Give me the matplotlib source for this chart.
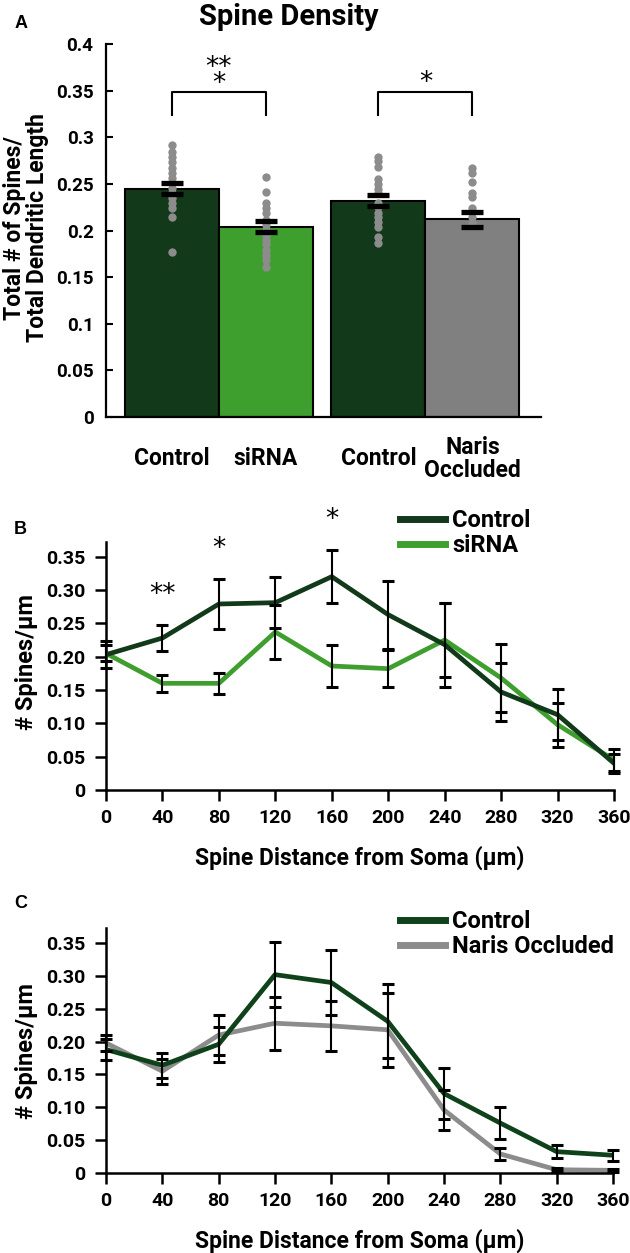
import matplotlib
matplotlib.use("Agg")
import matplotlib.pyplot as plt
import numpy as np

plt.rcParams['font.family'] = ['Roboto', 'DejaVu Sans']
plt.rcParams['font.weight'] = 'bold'

# ---------------- Panel A data ----------------
bar_labels = ["Control", "siRNA", "Control", "Naris\nOccluded"]
bar_means = [0.245, 0.204, 0.232, 0.212]
bar_sem = [0.006, 0.006, 0.006, 0.008]
dots_ctrl1 = [0.292, 0.284, 0.279, 0.273, 0.267, 0.262, 0.256, 0.251, 0.246,
              0.240, 0.235, 0.230, 0.224, 0.215, 0.177]
dots_sirna = [0.257, 0.241, 0.230, 0.224, 0.219, 0.211, 0.206, 0.201, 0.195,
              0.190, 0.185, 0.179, 0.174, 0.168, 0.161]
dots_ctrl2 = [0.279, 0.274, 0.268, 0.255, 0.250, 0.245, 0.240, 0.230, 0.225,
              0.219, 0.214, 0.209, 0.204, 0.193, 0.187]
dots_naris = [0.267, 0.262, 0.252, 0.240, 0.236, 0.224, 0.215, 0.208]
a_yticks = [0, 0.05, 0.1, 0.15, 0.2, 0.25, 0.3, 0.35, 0.4]
a_yticklabels = ["0", "0.05", "0.1", "0.15", "0.2", "0.25", "0.3", "0.35", "0.4"]

# ---------------- Panel B / C data ----------------
distance = [0, 40, 80, 120, 160, 200, 240, 280, 320, 360]
b_control = [0.203, 0.228, 0.279, 0.281, 0.320, 0.263, 0.218, 0.147, 0.113, 0.040]
b_control_err = [0.020, 0.020, 0.037, 0.038, 0.040, 0.051, 0.063, 0.044, 0.038, 0.014]
b_sirna = [0.205, 0.160, 0.160, 0.237, 0.186, 0.182, 0.225, 0.168, 0.098, 0.045]
b_sirna_err = [0.012, 0.013, 0.016, 0.041, 0.031, 0.028, 0.055, 0.051, 0.033, 0.016]

c_control = [0.188, 0.164, 0.196, 0.302, 0.290, 0.231, 0.121, 0.076, 0.0325, 0.027]
c_control_err = [0.016, 0.019, 0.027, 0.050, 0.050, 0.056, 0.039, 0.024, 0.010, 0.008]
c_naris = [0.198, 0.155, 0.210, 0.228, 0.224, 0.218, 0.096, 0.029, 0.005, 0.004]
c_naris_err = [0.012, 0.019, 0.031, 0.040, 0.038, 0.056, 0.031, 0.009, 0.002, 0.002]

line_yticks = [0, 0.05, 0.10, 0.15, 0.20, 0.25, 0.30, 0.35]
line_yticklabels = ["0", "0.05", "0.10", "0.15", "0.20", "0.25", "0.30", "0.35"]

DARK = "#12391a"
LIGHT = "#3f9f2e"
GRAY = "#808080"
DOT = "#8c8c8c"
C_DARK = "#0f421b"
C_GRAY = "#8c8c8c"

W, H = 630, 1253
fig = plt.figure(figsize=(W / 100, H / 100), dpi=100)


def rect(l, r, t, b):
    return [l / W, 1 - b / H, (r - l) / W, (b - t) / H]


STAR = dict(fontweight='normal', family=['DejaVu Sans'], ha='center', va='center')

# ================= Panel A =================
axA = fig.add_axes(rect(106, 541, 44, 417))
pos = [0, 1, 2.2, 3.2]
colors = [DARK, LIGHT, DARK, GRAY]
axA.bar(pos, bar_means, width=1.0, color=colors, edgecolor="black", linewidth=1.5, zorder=2)
for p, d in zip(pos, [dots_ctrl1, dots_sirna, dots_ctrl2, dots_naris]):
    axA.plot([p] * len(d), d, 'o', color=DOT, markersize=6, markeredgewidth=0, zorder=3)
axA.errorbar(pos, bar_means, yerr=bar_sem, fmt='none', ecolor='black', elinewidth=0,
             capsize=8, capthick=3.8, zorder=4)
axA.set_xlim(-0.7, 3.93)
axA.set_ylim(0, 0.4)
axA.set_yticks(a_yticks)
axA.set_yticklabels(a_yticklabels)
axA.set_xticks(pos)
axA.set_xticklabels(bar_labels, fontsize=16.5, fontweight='bold', linespacing=1.0)
for lbl in axA.get_xticklabels():
    lbl.set_va('center')
axA.tick_params(axis='x', length=0, pad=30)
axA.tick_params(axis='y', direction='in', length=5, width=1.5, labelsize=13.5, pad=9)
for s in ["top", "right"]:
    axA.spines[s].set_visible(False)
for s in ["left", "bottom"]:
    axA.spines[s].set_linewidth(1.6)

# significance brackets
for x1, x2 in [(pos[0], pos[1]), (pos[2], pos[3])]:
    axA.plot([x1, x1, x2, x2], [0.324, 0.349, 0.349, 0.324], color='black', lw=1.5, zorder=3)
axA.text(0.5, 0.366, "**\n*", fontsize=19, linespacing=0.5, **STAR)
axA.text(2.7, 0.358, "*", fontsize=19, **STAR)

fig.text(289 / W, 1 - 17 / H, "Spine Density", ha='center', va='center', fontsize=21,
         fontweight='bold')
fig.text(26 / W, 1 - 228 / H, "Total # of Spines/\nTotal Dendritic Length", rotation=90,
         ha='center', va='center', fontsize=16.5, fontweight='bold', linespacing=1.05,
         multialignment='center')


def style_line_axes(ax, ylim_top):
    ax.set_xlim(0, 360)
    ax.set_ylim(0, ylim_top)
    ax.set_xticks(distance)
    ax.set_yticks(line_yticks)
    ax.set_yticklabels(line_yticklabels)
    ax.tick_params(axis='both', direction='out', length=8, width=1.8, labelsize=14)
    ax.tick_params(axis='y', pad=7)
    ax.tick_params(axis='x', pad=6)
    for s in ["top", "right"]:
        ax.spines[s].set_visible(False)
    for s in ["left", "bottom"]:
        ax.spines[s].set_linewidth(1.8)


# ================= Panel B =================
axB = fig.add_axes(rect(106, 614, 542, 790))
axB.plot(distance, b_sirna, color=LIGHT, lw=3.4, label="siRNA", zorder=2,
         solid_joinstyle='round')
axB.plot(distance, b_control, color=DARK, lw=3.4, label="Control", zorder=3,
         solid_joinstyle='round')
axB.errorbar(distance, b_sirna, yerr=b_sirna_err, fmt='none', ecolor='black', elinewidth=1.5,
             capsize=4.5, capthick=2.2, zorder=4, clip_on=False)
axB.errorbar(distance, b_control, yerr=b_control_err, fmt='none', ecolor='black',
             elinewidth=1.5, capsize=4.5, capthick=2.2, zorder=4, clip_on=False)
style_line_axes(axB, 0.372)
h, l = axB.get_legend_handles_labels()
legB = axB.legend([h[1], h[0]], [l[1], l[0]], loc='upper left',
                  bbox_to_anchor=(400 / W, 1 - 509 / H), bbox_transform=fig.transFigure,
                  frameon=False, fontsize=17, handlelength=1.9, handletextpad=0.3,
                  labelspacing=0.1, borderpad=0, borderaxespad=0)
for ln in legB.get_lines():
    ln.set_linewidth(5)
axB.text(40, 0.293, "**", fontsize=19, clip_on=False, **STAR)
axB.text(80, 0.362, "*", fontsize=19, clip_on=False, **STAR)
axB.text(160, 0.405, "*", fontsize=19, clip_on=False, **STAR)
axB.set_xlabel("Spine Distance from Soma (µm)", fontsize=16.5, fontweight='bold', labelpad=13)
fig.text(26 / W, 1 - 662 / H, "# Spines/µm", rotation=90, ha='center', va='center',
         fontsize=17, fontweight='bold')

# ================= Panel C =================
axC = fig.add_axes(rect(106, 613, 928, 1173))
axC.plot(distance, c_naris, color=C_GRAY, lw=3.4, label="Naris Occluded", zorder=2,
         solid_joinstyle='round')
axC.plot(distance, c_control, color=C_DARK, lw=3.4, label="Control", zorder=3,
         solid_joinstyle='round')
axC.errorbar(distance, c_naris, yerr=c_naris_err, fmt='none', ecolor='black', elinewidth=1.5,
             capsize=4.5, capthick=2.2, zorder=4, clip_on=False)
axC.errorbar(distance, c_control, yerr=c_control_err, fmt='none', ecolor='black',
             elinewidth=1.5, capsize=4.5, capthick=2.2, zorder=4, clip_on=False)
style_line_axes(axC, 0.373)
h, l = axC.get_legend_handles_labels()
legC = axC.legend([h[1], h[0]], [l[1], l[0]], loc='upper left',
                  bbox_to_anchor=(400 / W, 1 - 910 / H), bbox_transform=fig.transFigure,
                  frameon=False, fontsize=17, handlelength=1.9, handletextpad=0.3,
                  labelspacing=0.1, borderpad=0, borderaxespad=0)
for ln in legC.get_lines():
    ln.set_linewidth(5)
axC.set_xlabel("Spine Distance from Soma (µm)", fontsize=16.5, fontweight='bold', labelpad=13)
fig.text(27 / W, 1 - 1051 / H, "# Spines/µm", rotation=90, ha='center', va='center',
         fontsize=17, fontweight='bold')

# panel letters
for txt, x, y in [("A", 21, 24), ("B", 20, 530), ("C", 21, 903)]:
    fig.text(x / W, 1 - y / H, txt, ha='center', va='center', fontsize=13,
             fontweight='bold', family=['Liberation Sans', 'DejaVu Sans'])

fig.savefig("out.png", dpi=100)
